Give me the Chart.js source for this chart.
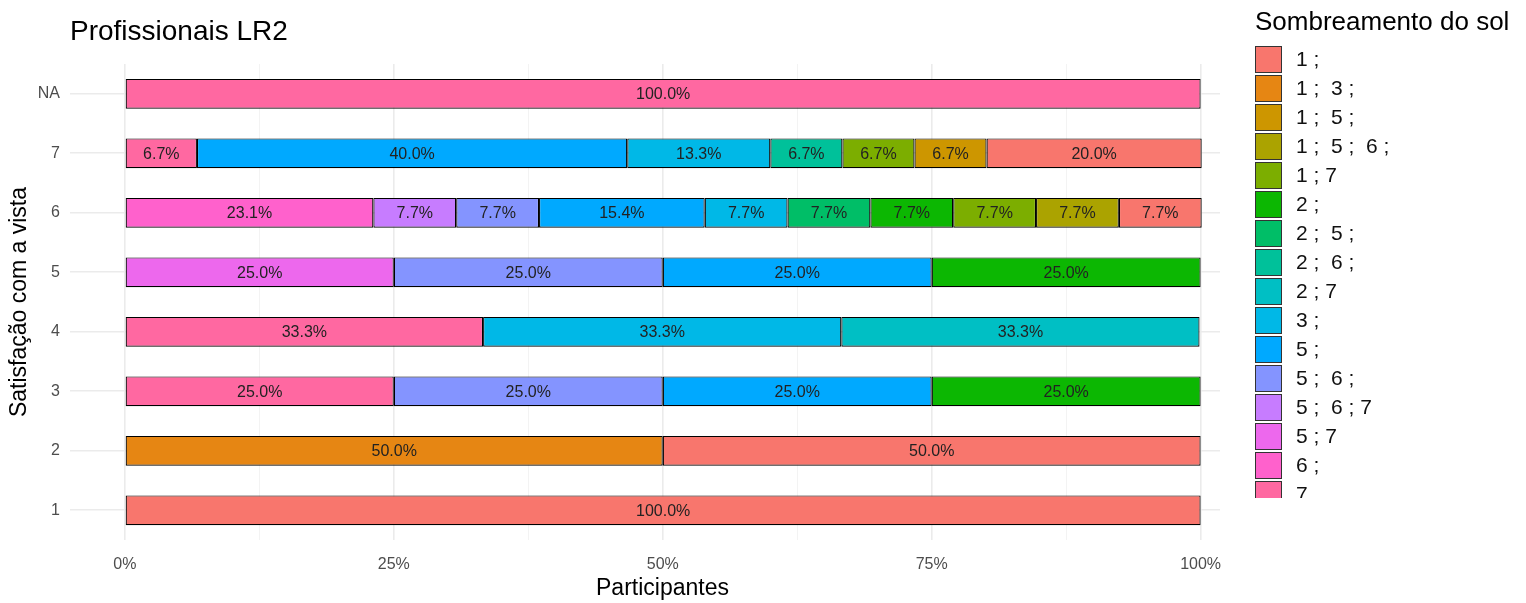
<!DOCTYPE html>
<html>
<head>
<meta charset="utf-8">
<script src="https://cdn.jsdelivr.net/npm/chart.js@4"></script>
<style>
  html, body { margin: 0; padding: 0; background: #fff; }
  canvas { display: block; }
</style>
</head>
<body>
<canvas id="chart" width="1526" height="603"></canvas>
<script>
// categories, top to bottom
const categories = ["NA", "7", "6", "5", "4", "3", "2", "1"];

// legend order (ggplot factor levels)
const seriesNames = [
  "1 ;", "1 ;  3 ;", "1 ;  5 ;", "1 ;  5 ;  6 ;", "1 ; 7", "2 ;", "2 ;  5 ;", "2 ;  6 ;",
  "2 ; 7", "3 ;", "5 ;", "5 ;  6 ;", "5 ;  6 ; 7", "5 ; 7", "6 ;", "7"
];
const seriesColors = [
  "#F8766D", "#E68613", "#CD9600", "#ABA300", "#7CAE00", "#0CB702", "#00BE67", "#00C19A",
  "#00BFC4", "#00B8E7", "#00A9FF", "#8494FF", "#C77CFF", "#ED68ED", "#FF61CC", "#FF68A1"
];

// percentages per category (NA, 7, 6, 5, 4, 3, 2, 1)
const s1    = [null, 20.0, 7.7, null, null, null, 50.0, 100.0];
const s1_3  = [null, null, null, null, null, null, 50.0, null];
const s1_5  = [null, 6.7, null, null, null, null, null, null];
const s1_56 = [null, null, 7.7, null, null, null, null, null];
const s1_7  = [null, 6.7, 7.7, null, null, null, null, null];
const s2    = [null, null, 7.7, 25.0, null, 25.0, null, null];
const s2_5  = [null, null, 7.7, null, null, null, null, null];
const s2_6  = [null, 6.7, null, null, null, null, null, null];
const s2_7  = [null, null, null, null, 33.3, null, null, null];
const s3    = [null, 13.3, 7.7, null, 33.3, null, null, null];
const s5    = [null, 40.0, 15.4, 25.0, null, 25.0, null, null];
const s5_6  = [null, null, 7.7, 25.0, null, 25.0, null, null];
const s5_67 = [null, null, 7.7, null, null, null, null, null];
const s5_7  = [null, null, null, 25.0, null, null, null, null];
const s6    = [null, null, 23.1, null, null, null, null, null];
const s7    = [100.0, 6.7, null, null, 33.3, 25.0, null, null];

const seriesValues = [s1, s1_3, s1_5, s1_56, s1_7, s2, s2_5, s2_6, s2_7, s3, s5, s5_6, s5_67, s5_7, s6, s7];

const xMajorTicks = [0, 25, 50, 75, 100];
const xMinorTicks = [12.5, 37.5, 62.5, 87.5];

const FONT = "'Liberation Sans', Arial, sans-serif";
Chart.defaults.font.family = FONT;

// ggplot stacks the last level on the left, so draw datasets in reverse
const datasets = seriesNames.map((name, i) => ({
  label: name,
  data: seriesValues[i],
  backgroundColor: seriesColors[i],
  borderColor: "#000",
  borderWidth: 1.2,
  borderSkipped: false,
  categoryPercentage: 1,
  barPercentage: 0.5,
})).reverse();

const barLabels = {
  id: "barLabels",
  afterDatasetsDraw(chart) {
    const ctx = chart.ctx;
    ctx.save();
    ctx.font = "16px " + FONT;
    ctx.fillStyle = "#222";
    ctx.textAlign = "center";
    ctx.textBaseline = "middle";
    chart.data.datasets.forEach((ds, di) => {
      const meta = chart.getDatasetMeta(di);
      meta.data.forEach((bar, j) => {
        const v = ds.data[j];
        if (v == null) return;
        const p = bar.getCenterPoint();
        ctx.fillText(v.toFixed(1) + "%", p.x, p.y + 1);
      });
    });
    ctx.restore();
  },
};

const titleAndLegend = {
  id: "titleAndLegend",
  afterDraw(chart) {
    const ctx = chart.ctx;
    const area = chart.chartArea;
    ctx.save();
    // plot title
    ctx.fillStyle = "#000";
    ctx.font = "28px " + FONT;
    ctx.textAlign = "left";
    ctx.textBaseline = "alphabetic";
    ctx.fillText("Profissionais LR2", area.left, 40);

    // x axis title, centred on the full ggplot panel
    ctx.font = "23px " + FONT;
    ctx.textAlign = "center";
    ctx.textBaseline = "middle";
    ctx.fillText("Participantes", (area.left + area.right + 35) / 2, 589);

    // legend (clipped at the bottom like the reference)
    const lx = area.right + 35;
    ctx.beginPath();
    ctx.rect(lx - 10, 0, chart.width - lx + 10, 498);
    ctx.clip();
    ctx.textAlign = "left";
    ctx.textBaseline = "alphabetic";
    ctx.font = "26px " + FONT;
    ctx.fillText("Sombreamento do sol", lx, 30);
    ctx.font = "21px " + FONT;
    ctx.textBaseline = "middle";
    seriesNames.forEach((name, i) => {
      const y = 46 + i * 29;
      ctx.fillStyle = seriesColors[i];
      ctx.fillRect(lx, y, 27, 27);
      ctx.strokeStyle = "#333";
      ctx.lineWidth = 1;
      ctx.strokeRect(lx + 0.5, y + 0.5, 26, 26);
      ctx.fillStyle = "#111";
      ctx.fillText(name, lx + 41, y + 14);
    });
    ctx.restore();
  },
};

new Chart(document.getElementById("chart"), {
  type: "bar",
  data: { labels: categories, datasets: datasets },
  options: {
    indexAxis: "y",
    responsive: false,
    animation: false,
    layout: { padding: { top: 64, right: 306, bottom: 0, left: 0 } },
    plugins: {
      legend: { display: false },
      tooltip: { enabled: false },
      title: { display: false },
    },
    scales: {
      x: {
        stacked: true,
        min: -5.1,
        max: 101.8,
        afterBuildTicks(scale) {
          scale.ticks = xMajorTicks.concat(xMinorTicks).sort((a, b) => a - b).map(v => ({ value: v }));
        },
        afterFit(scale) { scale.height = 63; },
        border: { display: false },
        grid: {
          drawTicks: false,
          color: ctx => (xMajorTicks.includes(ctx.tick.value) ? "#EBEBEB" : "#F3F3F3"),
          lineWidth: ctx => (xMajorTicks.includes(ctx.tick.value) ? 1.6 : 1),
        },
        ticks: {
          autoSkip: false,
          maxRotation: 0,
          padding: 15,
          color: "#4D4D4D",
          font: { size: 16 },
          callback: v => (xMajorTicks.includes(v) ? v + "%" : ""),
        },
        title: { display: false },
      },
      y: {
        stacked: true,
        afterFit(scale) { scale.width = 70; },
        border: { display: false },
        grid: { drawTicks: false, offset: false, color: "#EBEBEB", lineWidth: 1.6 },
        ticks: { padding: 10, color: "#4D4D4D", font: { size: 16 } },
        title: {
          display: true,
          text: "Satisfação com a vista",
          color: "#000",
          font: { size: 23 },
          padding: { top: 6, bottom: 0 },
        },
      },
    },
  },
  plugins: [barLabels, titleAndLegend],
});
</script>
</body>
</html>
